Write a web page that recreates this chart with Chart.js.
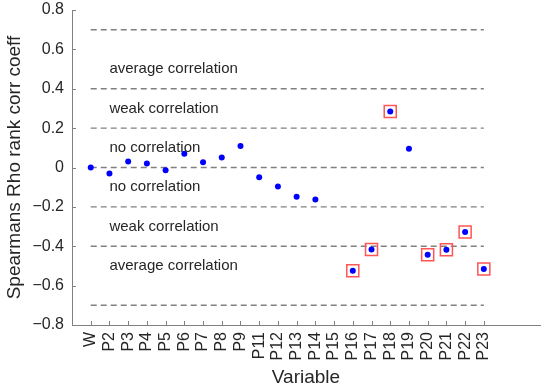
<!DOCTYPE html>
<html>
<head>
<meta charset="utf-8">
<script src="https://cdn.jsdelivr.net/npm/chart.js@4/dist/chart.umd.min.js"></script>
<style>
  body { margin: 0; background: #fff; }
  canvas { display: block; }
</style>
</head>
<body>
<canvas id="myChart" width="550" height="391"></canvas>
<script>
// categories on the x axis
const variables = ['W', 'P2', 'P3', 'P4', 'P5', 'P6', 'P7', 'P8', 'P9', 'P11', 'P12', 'P13',
  'P14', 'P15', 'P16', 'P17', 'P18', 'P19', 'P20', 'P21', 'P22', 'P23'];
// spearman rho per variable (P15 has no point)
const rho = [0, -0.03, 0.03, 0.02, -0.014, 0.07, 0.027, 0.051, 0.109, -0.049, -0.097, -0.148,
  -0.163, null, -0.525, -0.416, 0.284, 0.095, -0.443, -0.418, -0.328, -0.515];
// variables marked with a red box
const boxed = ['P16', 'P17', 'P18', 'P20', 'P21', 'P22', 'P23'];
// dashed threshold lines
const thresholds = [0.7, 0.4, 0.2, 0, -0.2, -0.4, -0.7];
// band labels
const bandText = ['average correlation', 'weak correlation', 'no correlation',
  'no correlation', 'weak correlation', 'average correlation'];
const bandY = [0.5, 0.3, 0.1, -0.1, -0.3, -0.5];
const yTicks = [-0.8, -0.6, -0.4, -0.2, 0, 0.2, 0.4, 0.6, 0.8];

const FONT = "'Liberation Sans', Arial, sans-serif";
const AXIS = '#808080';

let points = [];
rho.forEach((v, i) => { if (v !== null) points.push({x: i, y: v}); });
let boxes = points.filter(p => boxed.includes(variables[p.x]));

let datasets = [{
  data: points, pointRadius: 3, pointBackgroundColor: '#0000ff', pointBorderWidth: 0,
  showLine: false, order: 0
}, {
  data: boxes, pointStyle: 'rect', pointRadius: 8.5, pointBorderColor: '#ff5555',
  pointBorderWidth: 1.5, pointBackgroundColor: 'rgba(0,0,0,0)', showLine: false, order: 1
}];
thresholds.forEach(t => {
  datasets.push({
    data: [{x: 0, y: t}, {x: variables.length - 1, y: t}],
    showLine: true, borderColor: AXIS, borderWidth: 1.4, borderDash: [6, 4],
    pointRadius: 0, order: 2
  });
});

// inward tick marks + band labels
const extras = {
  id: 'extras',
  afterDatasetsDraw(chart) {
    const ctx = chart.ctx;
    const xs = chart.scales.x, ys = chart.scales.y;
    const area = chart.chartArea;
    ctx.save();
    ctx.font = '15px ' + FONT;
    ctx.fillStyle = '#262626';
    ctx.textBaseline = 'middle';
    ctx.textAlign = 'left';
    bandText.forEach((t, i) => {
      ctx.fillText(t, xs.getPixelForValue(1), ys.getPixelForValue(bandY[i]));
    });
    ctx.strokeStyle = AXIS;
    ctx.lineWidth = 1;
    ctx.beginPath();
    yTicks.forEach(v => {
      const y = Math.round(ys.getPixelForValue(v)) + 0.5;
      ctx.moveTo(area.left, y);
      ctx.lineTo(area.left + 4, y);
    });
    variables.forEach((c, i) => {
      const x = Math.round(xs.getPixelForValue(i)) + 0.5;
      ctx.moveTo(x, area.bottom);
      ctx.lineTo(x, area.bottom - 4);
    });
    ctx.stroke();
    ctx.restore();
  }
};

new Chart(document.getElementById('myChart'), {
  type: 'scatter',
  data: { datasets },
  options: {
    responsive: false,
    animation: false,
    events: [],
    layout: { padding: { top: 0, right: 5, left: 0, bottom: 0 } },
    plugins: { legend: { display: false }, tooltip: { enabled: false } },
    scales: {
      x: {
        type: 'linear', min: -1, max: 24,
        afterBuildTicks: (s) => { s.ticks = variables.map((c, i) => ({value: i})); },
        afterFit: (s) => { s.height = 66; },
        grid: { display: false, drawTicks: false },
        border: { color: AXIS, width: 1 },
        ticks: {
          autoSkip: false, minRotation: 90, maxRotation: 90, padding: 7,
          color: '#262626', font: { family: FONT, size: 16 },
          callback: (v) => variables[v]
        },
        title: {
          display: true, text: 'Variable', color: '#262626',
          font: { family: FONT, size: 19 }, padding: { top: 0, bottom: 2 }
        }
      },
      y: {
        min: -0.8, max: 0.8,
        afterBuildTicks: (s) => { s.ticks = yTicks.map(v => ({value: v})); },
        afterFit: (s) => { s.width = 72; s.paddingTop = 10; s.paddingBottom = 0; },
        grid: { display: false, drawTicks: false },
        border: { color: AXIS, width: 1 },
        ticks: {
          padding: 8, color: '#262626', font: { family: FONT, size: 16 },
          callback: (v) => {
            const r = Math.round(v * 10) / 10;
            if (r === 0) return '0';
            return (r < 0 ? '\u2212' : '') + Math.abs(r).toString();
          }
        },
        title: {
          display: true, text: 'Spearmans Rho rank corr coeff', color: '#262626',
          font: { family: FONT, size: 19 }, padding: { top: 3, bottom: 0 }
        }
      }
    }
  },
  plugins: [extras]
});
</script>
</body>
</html>
